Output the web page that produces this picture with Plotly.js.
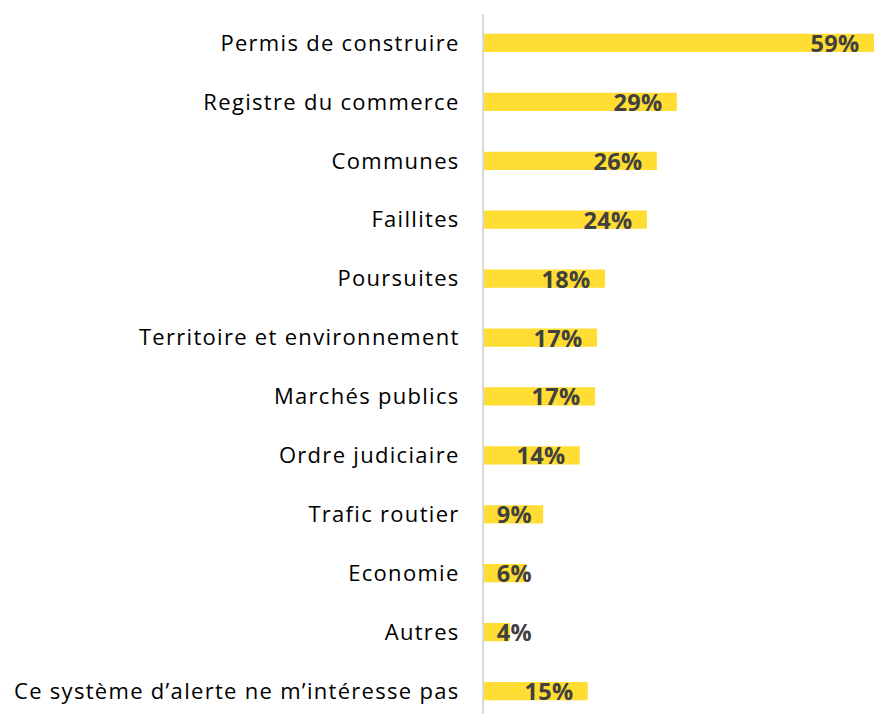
<!DOCTYPE html>
<html>
<head>
<meta charset="utf-8">
<script src="https://cdn.plot.ly/plotly-3.0.1.min.js"></script>
<style>
html,body{margin:0;padding:0;background:#fff;}
#chart{width:874px;height:714px;}
#chart .ytick text{letter-spacing:1.3px;}
#chart .annotation-text{letter-spacing:0.3px;}
</style>
</head>
<body>
<div id="chart"></div>
<script>
const categories = [
  "Permis de construire",
  "Registre du commerce",
  "Communes",
  "Faillites",
  "Poursuites",
  "Territoire et environnement",
  "Marchés publics",
  "Ordre judiciaire",
  "Trafic routier",
  "Economie",
  "Autres",
  "Ce système d’alerte ne m’intéresse pas"
];
const values = [59, 29, 26, 24.5, 18.2, 17, 16.7, 14.4, 8.9, 6.3, 3.9, 15.6];
const valueLabels = ["59%", "29%", "26%", "24%", "18%", "17%", "17%", "14%", "9%", "6%", "4%", "15%"];

const xMax = 58.65;
const minLabelPos = 9.4;
const annotations = categories.map((c, i) => ({
  x: Math.min(Math.max(values[i], minLabelPos), xMax),
  y: c,
  xref: 'x', yref: 'y',
  text: valueLabels[i],
  showarrow: false,
  xanchor: 'right',
  xshift: -13,
  yshift: 0,
  font: {family: '"Open Sans", sans-serif', size: 23.5, color: '#404040', weight: 'bold'}
}));

const trace = {
  type: 'bar',
  orientation: 'h',
  x: values,
  y: categories,
  width: 0.31,
  marker: {color: '#FFDD33'},
  hoverinfo: 'none'
};

const layout = {
  width: 874, height: 714,
  margin: {l: 484, r: 0, t: 14, b: 0, pad: 0},
  paper_bgcolor: '#fff', plot_bgcolor: '#fff',
  showlegend: false,
  xaxis: {range: [0, xMax], showgrid: false, zeroline: false, showticklabels: false, ticks: '', showline: false, fixedrange: true},
  yaxis: {
    type: 'category',
    categoryorder: 'array', categoryarray: categories,
    range: [11.39, -0.492],
    showgrid: false, zeroline: false,
    showline: true, linecolor: '#D9D9D9', linewidth: 2,
    ticks: '', ticklabelstandoff: 18,
    tickfont: {family: '"Open Sans", sans-serif', size: 22, color: '#000'}
  },
  annotations: annotations
};

Plotly.newPlot('chart', [trace], layout, {staticPlot: true, displayModeBar: false});
</script>
</body>
</html>
